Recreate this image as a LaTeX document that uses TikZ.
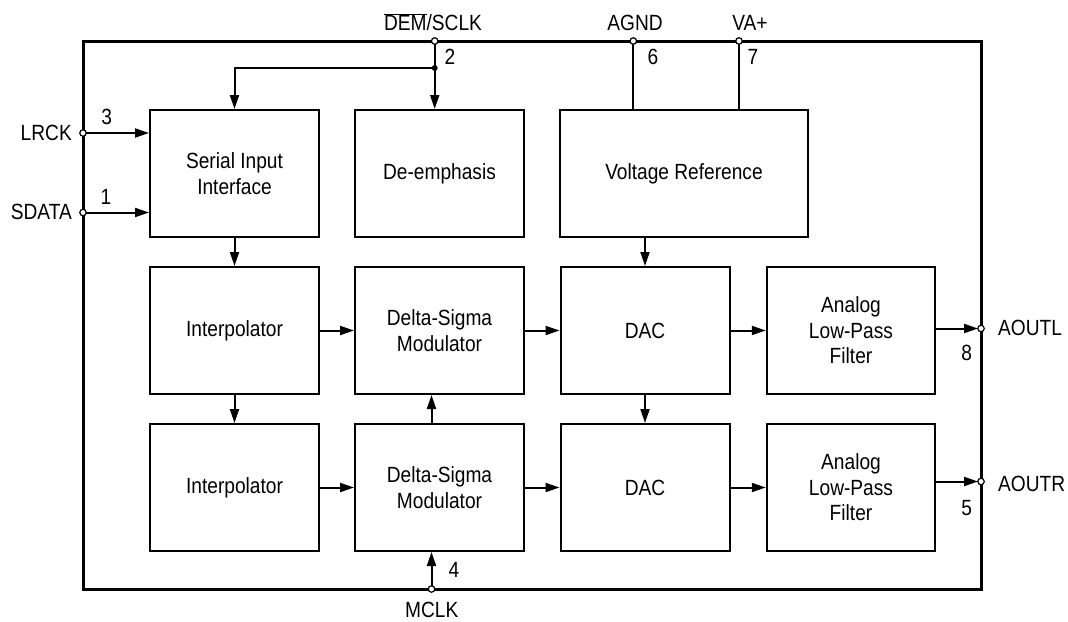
\documentclass[tikz,border=0pt]{standalone}
\usepackage{fontspec}
\setmainfont{Liberation Sans}[FakeStretch=0.87]
\usetikzlibrary{arrows.meta}
\begin{document}
\begin{tikzpicture}[x=1pt,y=-1pt,
  txt/.style={font=\fontsize{22}{25.5}\selectfont},
  blk/.style={draw, line width=2pt, minimum width=169pt, minimum height=127pt, align=center, inner sep=0pt, txt},
  wire/.style={line width=2pt},
  arr/.style={wire, -{Triangle[length=14pt,width=9pt]}},
  pin/.style={circle, draw, fill=white, line width=1.2pt, minimum size=6.5pt, inner sep=0pt},
  lbl/.style={inner sep=0pt, txt}]
\useasboundingbox (0,0) rectangle (1068,621);
% chip outline
\node[draw, line width=3pt, minimum width=898pt, minimum height=548pt, inner sep=0pt] (chip) at (532,315) {};
% blocks
\node[blk] (sii) at (234.5,173.5) {Serial Input\\Interface};
\node[blk] (dem) at (439.5,173.5) {De-emphasis};
\node[blk, minimum width=248pt] (vref) at (684,173.5) {Voltage Reference};
\node[blk] (int1) at (234.5,330.5) {Interpolator};
\node[blk] (dsm1) at (439.5,330.5) {Delta-Sigma\\Modulator};
\node[blk] (dac1) at (645,330.5) {DAC};
\node[blk, minimum width=168.5pt] (lpf1) at (851,330.5) {Analog\\Low-Pass\\Filter};
\node[blk] (int2) at (234.5,487.5) {Interpolator};
\node[blk] (dsm2) at (439.5,487.5) {Delta-Sigma\\Modulator};
\node[blk] (dac2) at (645,487.5) {DAC};
\node[blk, minimum width=168.5pt] (lpf2) at (851,487.5) {Analog\\Low-Pass\\Filter};
% junction
\coordinate (jn) at (434.7,68);
% connectors (pins drawn afterwards on top)
\coordinate (cLRCK) at (83,133);
\coordinate (cSDATA) at (83,212.5);
\coordinate (cDEM) at (434.7,41);
\coordinate (cAGND) at (633.3,41);
\coordinate (cVA) at (739,41);
\coordinate (cAOUTL) at (981,328.5);
\coordinate (cAOUTR) at (981,481.5);
\coordinate (cMCLK) at (431.5,589);
\draw[arr] (cLRCK) -- (cLRCK -| sii.west);
\draw[arr] (cSDATA) -- (cSDATA -| sii.west);
\draw[arr] (cDEM) -- (cDEM |- dem.north);
\draw[arr] (jn) -| (sii.north);
\fill (jn) circle (3pt);
\draw[wire] (cAGND) -- (cAGND |- vref.north);
\draw[wire] (cVA) -- (cVA |- vref.north);
\draw[arr] (vref.south -| dac1.north) -- (dac1.north);
\draw[arr] (sii.south) -- (int1.north);
\draw[arr] (int1.south) -- (int2.north);
\draw[arr] (dac1.south) -- (dac2.north);
\draw[arr] (int1.east) -- (dsm1.west);
\draw[arr] (dsm1.east) -- (dac1.west);
\draw[arr] (dac1.east) -- (lpf1.west);
\draw[arr] (int2.east) -- (dsm2.west);
\draw[arr] (dsm2.east) -- (dac2.west);
\draw[arr] (dac2.east) -- (lpf2.west);
\draw[arr] (cMCLK |- dsm2.north) -- (cMCLK |- dsm1.south);
\draw[arr] (cMCLK) -- (cMCLK |- dsm2.south);
\draw[arr, shorten >=3pt] (lpf1.east |- cAOUTL) -- (cAOUTL);
\draw[arr, shorten >=3pt] (lpf2.east |- cAOUTR) -- (cAOUTR);
% pins
\node[pin] (pLRCK) at (cLRCK) {};
\node[pin] (pSDATA) at (cSDATA) {};
\node[pin] (pDEM) at (cDEM) {};
\node[pin] (pAGND) at (cAGND) {};
\node[pin] (pVA) at (cVA) {};
\node[pin] (pAOUTL) at (cAOUTL) {};
\node[pin] (pAOUTR) at (cAOUTR) {};
\node[pin] (pMCLK) at (cMCLK) {};
% pin labels
\node[lbl] (tDEM) at (433,22.5) {$\overline{\mbox{DEM}}$/SCLK};
\node[lbl] (tAGND) at (635,22.5) {AGND};
\node[lbl] (tVA) at (750,22.5) {VA+};
\node[lbl] (n2) at (450,57) {2};
\node[lbl] (n6) at (653,57) {6};
\node[lbl] (n7) at (753,57) {7};
\node[lbl, anchor=east] (tLRCK) at (72,132.5) {LRCK};
\node[lbl, anchor=east] (tSDATA) at (72,212) {SDATA};
\node[lbl] (n3) at (106.7,116.5) {3};
\node[lbl] (n1) at (106,196.5) {1};
\node[lbl, anchor=west] (tAOUTL) at (998,328) {AOUTL};
\node[lbl, anchor=west] (tAOUTR) at (998,484) {AOUTR};
\node[lbl] (n8) at (966.7,353) {8};
\node[lbl] (n5) at (966.7,508) {5};
\node[lbl] (n4) at (454,570) {4};
\node[lbl] (tMCLK) at (431.7,610) {MCLK};
\end{tikzpicture}
\end{document}
